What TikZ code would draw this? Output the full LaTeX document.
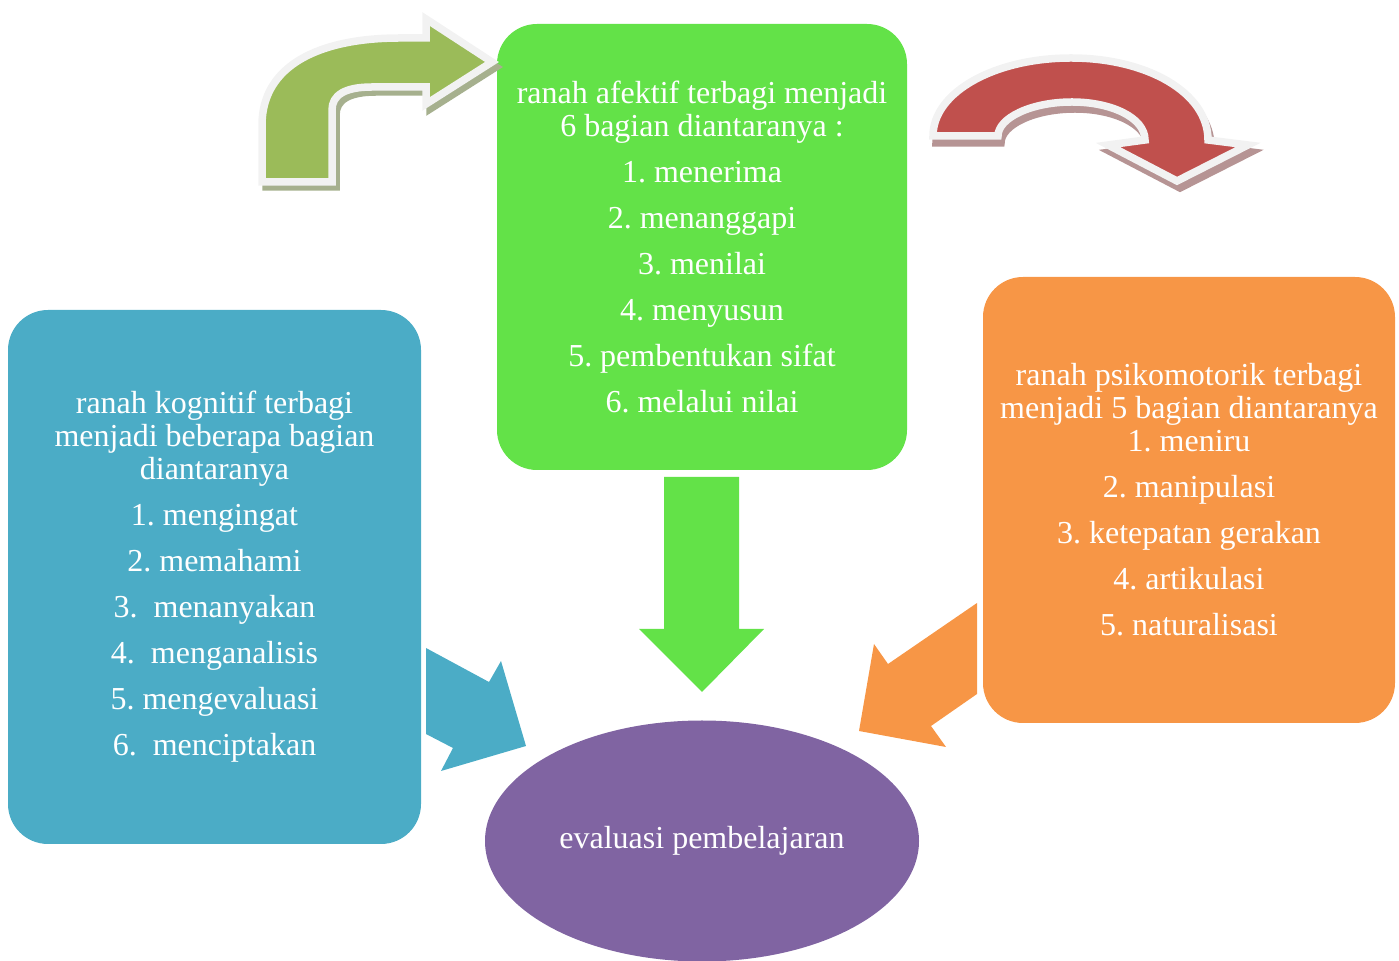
\documentclass[tikz,border=0pt]{standalone}
\usepackage{fontspec}
\setmainfont{Liberation Serif}
\usepackage{tikz}
\usetikzlibrary{shapes.geometric, positioning}
\frenchspacing
\definecolor{kognitif}{RGB}{75, 172, 198}
\definecolor{afektif}{RGB}{99, 226, 72}
\definecolor{psikomotor}{RGB}{247, 150, 70}
\definecolor{evalungu}{RGB}{128, 100, 162}
\definecolor{merah}{RGB}{192, 80, 77}
\definecolor{zaitun}{RGB}{155, 187, 89}
\definecolor{garis}{RGB}{242, 242, 242}
\definecolor{bayangzaitun}{RGB}{166, 176, 142}
\definecolor{bayangmerah}{RGB}{182, 148, 148}
\tikzstyle{ranah} = [rectangle, rounded corners=20pt, text=white, align=center, inner sep=0pt, font=\fontsize{16}{16.5}\selectfont]
\tikzstyle{evaluasi} = [ellipse, fill=evalungu, text=white, inner sep=0pt, minimum width=217pt, minimum height=120.5pt, font=\fontsize{16}{16.5}\selectfont]
\tikzstyle{lengkung} = [line width=3.75pt, draw=garis, line join=miter]
\tikzstyle{bayang} = [line width=3.75pt, line join=miter]
\newcommand{\jalurzaitun}{(262,182) -- (262,125) .. controls (262,65) and (320,38) .. (400,38) -- (426,38) -- (426,19) -- (492,62) -- (426,104) -- (426,87) -- (372,87) .. controls (345,87) and (332,95) .. (332,110) -- (332,182) -- cycle}
\newcommand{\jalurmerah}{(933,136) .. controls (933,92) and (995,58) .. (1071,58) .. controls (1146,58) and (1208,92) .. (1208,140) -- (1248,145) -- (1177,181) -- (1108,145) -- (1145,140) .. controls (1145,118) and (1112,102) .. (1072,102) .. controls (1031,102) and (998,118) .. (998,136) -- cycle}

\begin{document}
\begin{tikzpicture}[x=0.5pt, y=-0.5pt]
    \useasboundingbox (0,0) rectangle (1399,961);

    % Block arrows into the ellipse
    \fill[afektif] (664,477) -- (739,477) -- (739,629) -- (764,629) -- (702,692) -- (639,629) -- (664,629) -- cycle;
    \fill[kognitif] (426,648) -- (489,682) -- (501,661) -- (526,746) -- (441,771) -- (453,748) -- (426,734) -- cycle;
    \fill[psikomotor] (977,603) -- (888,664) -- (874,644) -- (859,731) -- (946,747) -- (931,726) -- (977,694) -- cycle;

    % Ranah boxes
    \node[ranah, fill=kognitif, minimum width=206.5pt, minimum height=267pt] (kog) at (214.5,577) {ranah kognitif terbagi\\menjadi beberapa bagian\\diantaranya\\[6.5pt]1. mengingat\\[6.5pt]2. memahami\\[6.5pt]3.\ \ menanyakan\\[6.5pt]4.\ \ menganalisis\\[6.5pt]5. mengevaluasi\\[6.5pt]6.\ \ menciptakan};
    \node[ranah, fill=afektif, minimum width=205pt, minimum height=223pt] (afe) at (702,247) {ranah afektif terbagi menjadi\\6 bagian diantaranya :\\[6.5pt]1. menerima\\[6.5pt]2. menanggapi\\[6.5pt]3. menilai\\[6.5pt]4. menyusun\\[6.5pt]5. pembentukan sifat\\[6.5pt]6. melalui nilai};
    \node[ranah, fill=psikomotor, minimum width=206pt, minimum height=223pt] (psi) at (1189,500) {ranah psikomotorik terbagi\\menjadi 5 bagian diantaranya\\1. meniru\\[6.5pt]2. manipulasi\\[6.5pt]3. ketepatan gerakan\\[6.5pt]4. artikulasi\\[6.5pt]5. naturalisasi};

    % Evaluasi
    \node[evaluasi] (eval) at (702,841) {evaluasi pembelajaran};

    % Curved arrows
    \filldraw[bayang, shift={(4,5)}, fill=bayangzaitun, draw=bayangzaitun] \jalurzaitun;
    \filldraw[lengkung, fill=zaitun] \jalurzaitun;
    \filldraw[bayang, shift={(3,7)}, fill=bayangmerah, draw=bayangmerah] \jalurmerah;
    \filldraw[lengkung, fill=merah] \jalurmerah;
\end{tikzpicture}
\end{document}
